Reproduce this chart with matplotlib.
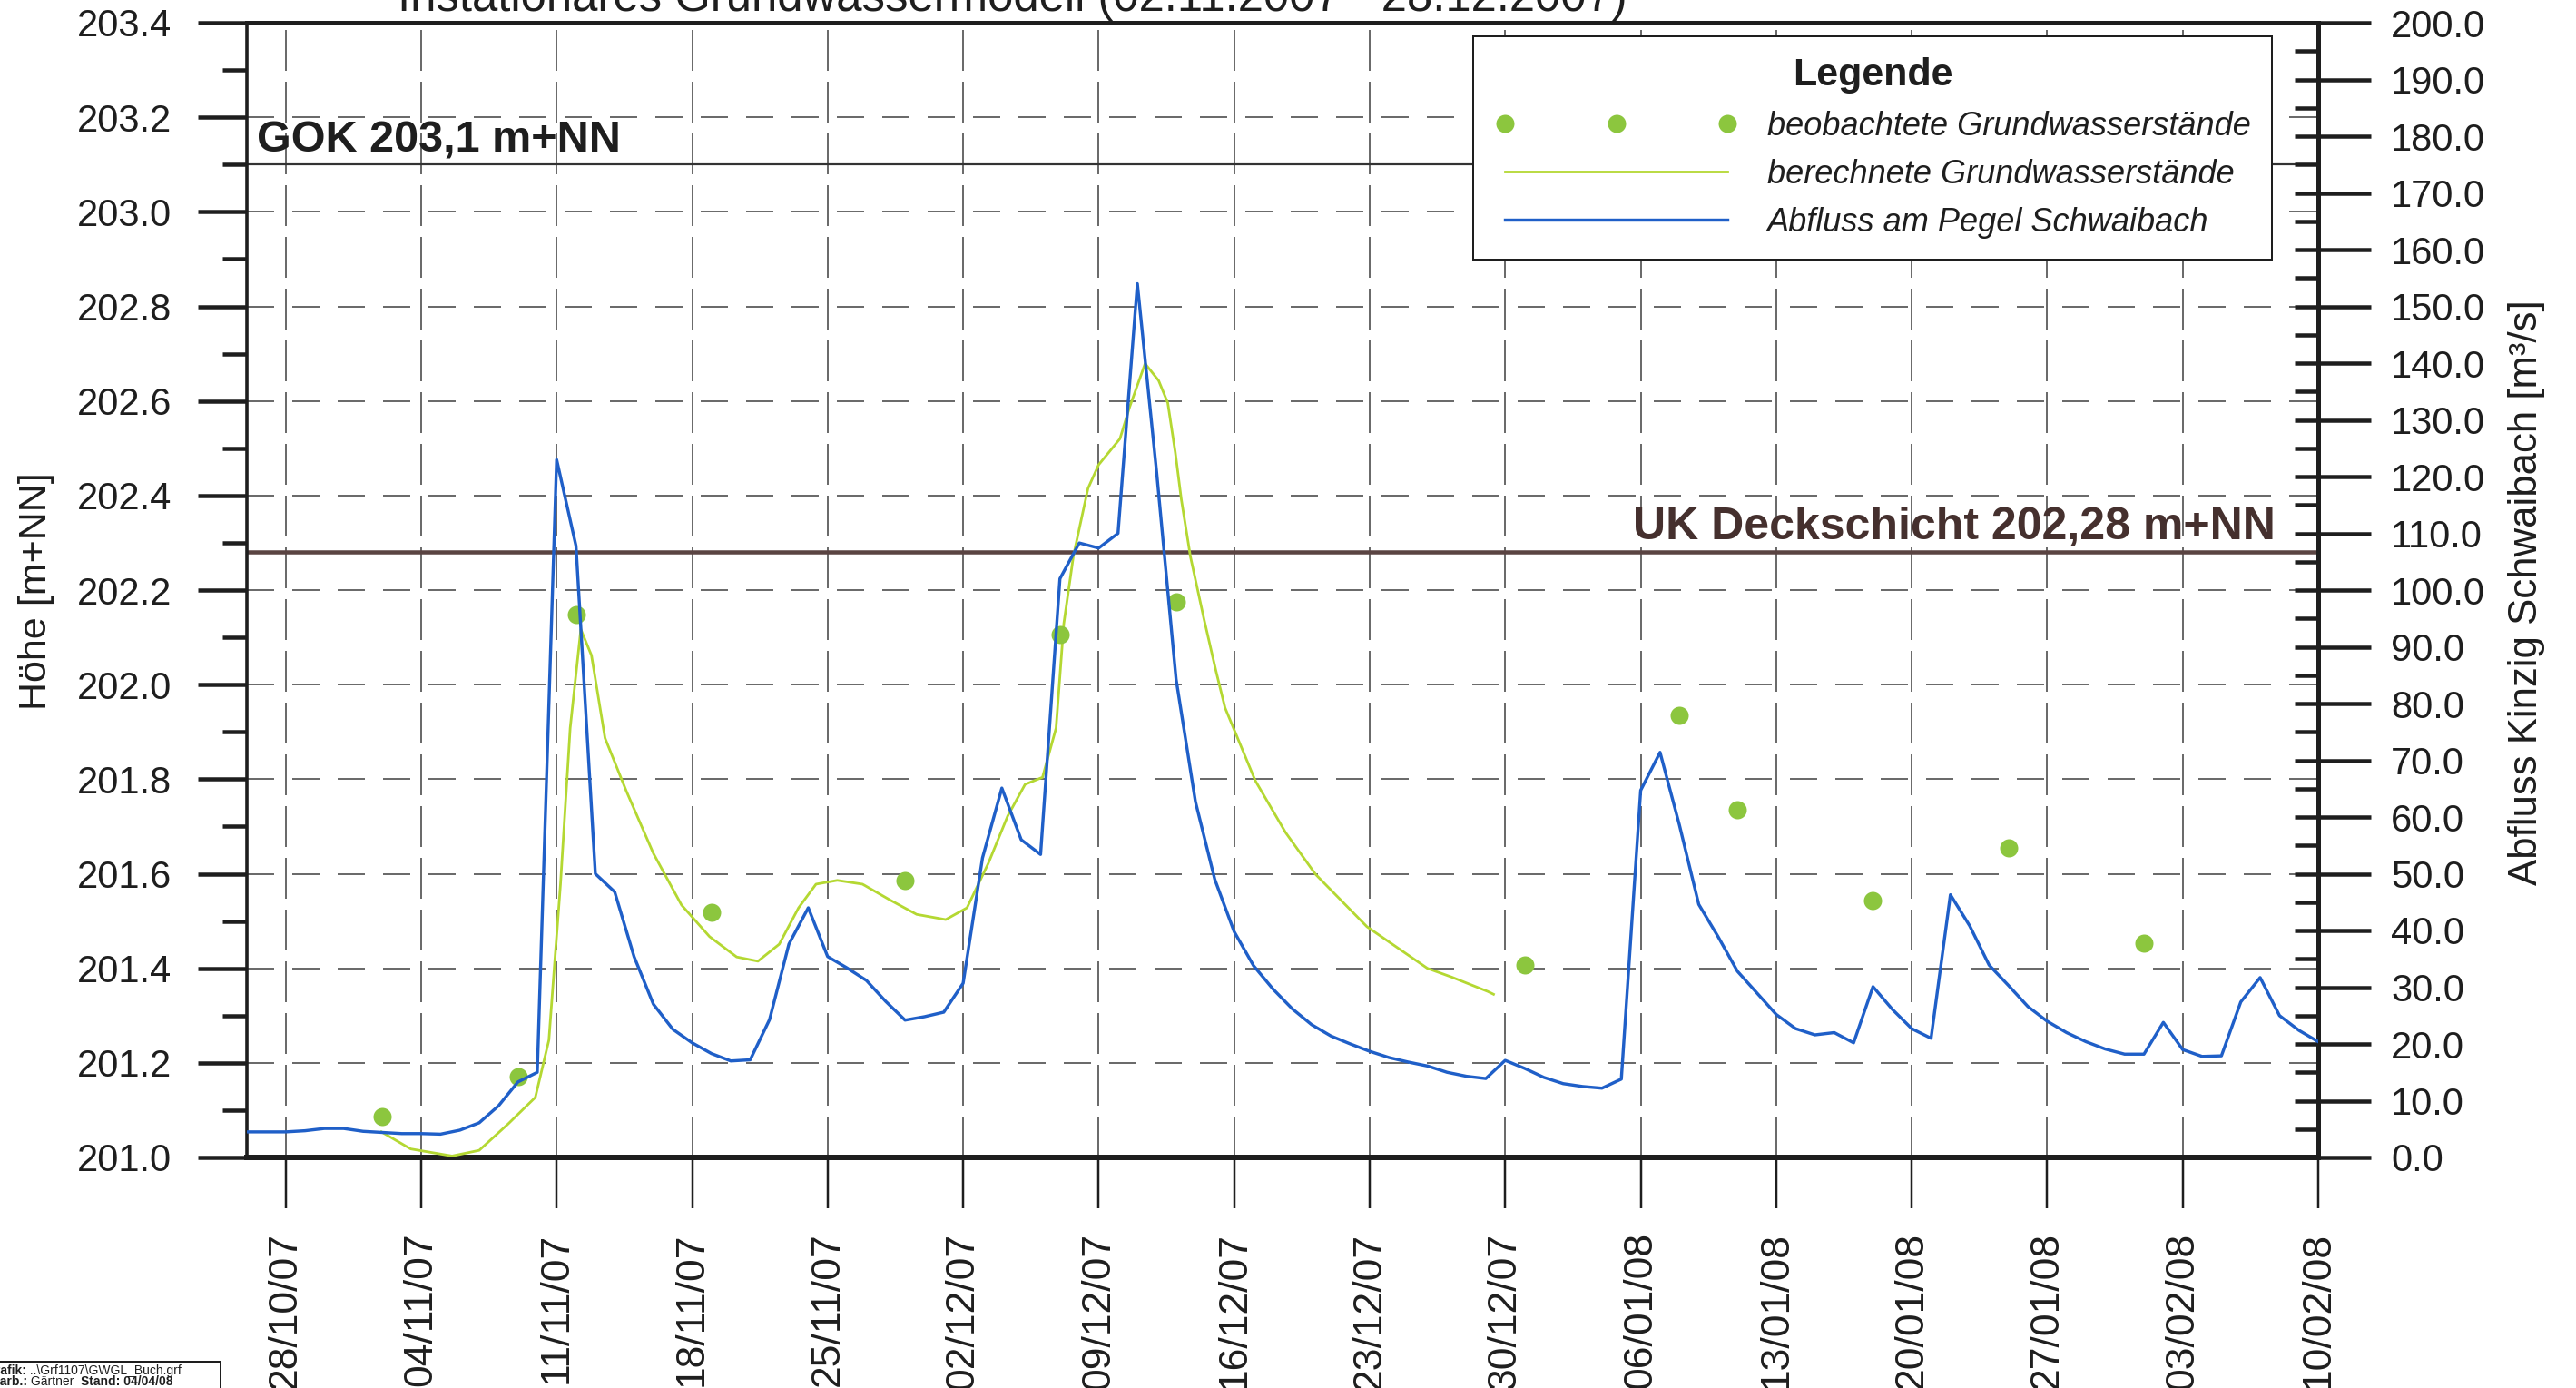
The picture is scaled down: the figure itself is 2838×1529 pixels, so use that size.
import numpy as np
import pandas as pd
import matplotlib
matplotlib.use('Agg')
import matplotlib.pyplot as plt
import matplotlib.dates as mdates
from matplotlib.ticker import MultipleLocator, FormatStrFormatter
from matplotlib.lines import Line2D
from matplotlib.patches import Rectangle

plt.rcParams['font.family'] = ['Liberation Sans', 'DejaVu Sans']
plt.rcParams['lines.scale_dashes'] = False

W, H = 2838, 1529
DPI = 100
PX = 72.0 / DPI  # points per pixel

# Abfluss am Pegel Schwaibach [m3/s], daily 26/10/07 .. 10/02/08
abfluss_dates = pd.date_range('2007-10-26', '2008-02-10', freq='D')
abfluss = [4.5, 4.5, 4.5, 4.7, 5.1, 5.1, 4.6, 4.4, 4.2, 4.2,
           4.1, 4.8, 6.1, 9.1, 13.3, 15.0, 123.0, 107.8, 50.0, 46.8,
           35.4, 27.0, 22.6, 20.2, 18.3, 17.0, 17.2, 24.3, 37.6, 44.0,
           35.4, 33.4, 31.2, 27.5, 24.2, 24.8, 25.6, 30.7, 52.8, 65.1,
           56.0, 53.4, 102.0, 108.3, 107.4, 110.0, 154.0, 120.6, 84.3, 62.7,
           49.0, 39.8, 33.8, 29.7, 26.2, 23.4, 21.4, 20.0, 18.7, 17.6,
           16.8, 16.1, 15.0, 14.3, 13.9, 17.1, 15.7, 14.1, 13.0, 12.5,
           12.2, 13.8, 64.7, 71.4, 58.6, 44.6, 38.9, 32.8, 29.0, 25.2,
           22.7, 21.6, 22.0, 20.2, 30.1, 26.1, 22.7, 21.0, 46.3, 40.8,
           33.9, 30.3, 26.6, 24.0, 22.0, 20.4, 19.1, 18.2, 18.2, 23.8,
           19.0, 17.8, 17.9, 27.4, 31.7, 25.0, 22.4, 20.4]

# beobachtete Grundwasserstaende [m+NN]
obs_dates = ['2007-11-02', '2007-11-09', '2007-11-12', '2007-11-19', '2007-11-29',
             '2007-12-07', '2007-12-13', '2007-12-31', '2008-01-08', '2008-01-11',
             '2008-01-18', '2008-01-25', '2008-02-01']
obs_values = [201.087, 201.170, 202.148, 201.519, 201.586,
              202.106, 202.175, 201.407, 201.935, 201.735,
              201.544, 201.654, 201.454]

# berechnete Grundwasserstaende, days after 28/10/07
calc_start = '2007-10-28'
calc_days = [4.95, 6.46, 8.6, 10.0, 11.5, 12.9, 13.6, 14.2, 14.7, 15.25,
             15.8, 16.5, 17.6, 19.0, 20.45, 21.9, 23.3, 24.4, 25.5, 26.5,
             27.4, 28.5, 29.8, 31.2, 32.6, 34.1, 35.2, 36.3, 37.3, 38.2,
             39.1, 39.8, 40.2, 40.7, 41.45, 42.0, 43.1, 43.6, 44.4, 45.1,
             45.57, 45.96, 46.27, 46.74, 47.44, 48.06, 48.53, 50.09, 51.66, 53.2,
             55.86, 58.98, 60.26, 62.1, 62.4]
calc_values = [201.054, 201.018, 201.003, 201.015, 201.071, 201.127, 201.248, 201.578, 201.908, 202.117,
               202.062, 201.887, 201.775, 201.643, 201.534, 201.467, 201.424, 201.415, 201.451, 201.528,
               201.578, 201.586, 201.578, 201.545, 201.514, 201.503, 201.528, 201.622, 201.722, 201.789,
               201.804, 201.908, 202.129, 202.273, 202.415, 202.465, 202.520, 202.587, 202.679, 202.643,
               202.596, 202.491, 202.392, 202.271, 202.139, 202.029, 201.951, 201.797, 201.687, 201.599,
               201.488, 201.400, 201.381, 201.351, 201.345]

GOK = 203.1
UK = 202.28
week_ticks = pd.date_range('2007-10-28', '2008-02-10', freq='7D')

title = 'Instationäres Grundwassermodell (02.11.2007 - 28.12.2007)'
legend_labels = ['beobachtete Grundwasserstände', 'berechnete Grundwasserstände',
                 'Abfluss am Pegel Schwaibach']

BLUE = '#1f5fc8'
GREEN = '#b4d832'
DOT = '#8cc63e'
INK = '#1e1e1e'
GRID = '#3a3a3a'

fig = plt.figure(figsize=(W / DPI, H / DPI), dpi=DPI)
ax = fig.add_axes([272 / W, 1 - 1275 / H, (2554 - 272) / W, (1275 - 25) / H])
ax2 = ax.twinx()

calc_x = pd.Timestamp(calc_start) + pd.to_timedelta(calc_days, unit='D')
obs_x = pd.to_datetime(obs_dates)

ax.plot(calc_x, calc_values, color=GREEN, lw=2.8 * PX, zorder=3)
ax.plot(obs_x, obs_values, ls='none', marker='o', ms=20 * PX, color=DOT,
        mec='none', zorder=4)
ax2.plot(abfluss_dates, abfluss, color=BLUE, lw=3.4 * PX, zorder=3)

ax.axhline(GOK, color='#333333', lw=2.2 * PX, zorder=2)
ax.axhline(UK, color='#5a4442', lw=4.5 * PX, zorder=2)

ax.annotate('GOK 203,1 m+NN', xy=((283 - 272) / 2282, GOK),
            xycoords=('axes fraction', 'data'), xytext=(0, 14 * PX),
            textcoords='offset points', ha='left', va='baseline',
            fontsize=35, fontweight='bold', color=INK)
ax.annotate('UK Deckschicht 202,28 m+NN', xy=((2507 - 272) / 2282, UK),
            xycoords=('axes fraction', 'data'), xytext=(0, 14 * PX),
            textcoords='offset points', ha='right', va='baseline',
            fontsize=36, fontweight='bold', color='#45302e')

# axes ranges
ax.set_xlim(pd.Timestamp('2007-10-26'), pd.Timestamp('2008-02-10'))
ax.set_ylim(201.0, 203.4)
ax2.set_ylim(0, 200)

# left axis
ax.yaxis.set_major_locator(MultipleLocator(0.2))
ax.yaxis.set_minor_locator(MultipleLocator(0.1))
ax.yaxis.set_major_formatter(FormatStrFormatter('%.1f'))
ax.tick_params(axis='y', which='major', direction='out', length=54 * PX,
               width=4.5 * PX, labelsize=30, pad=21, colors=INK)
ax.tick_params(axis='y', which='minor', direction='out', length=27 * PX,
               width=4.5 * PX, colors=INK)

# right axis
ax2.yaxis.set_major_locator(MultipleLocator(10))
ax2.yaxis.set_minor_locator(MultipleLocator(5))
ax2.yaxis.remove_overlapping_locs = False
ax2.yaxis.set_major_formatter(FormatStrFormatter('%.1f'))
ax2.tick_params(axis='y', which='major', direction='out', length=58 * PX,
                width=4.5 * PX, labelsize=30, pad=16, colors=INK)
ax2.tick_params(axis='y', which='minor', direction='in', length=26 * PX,
                width=4.5 * PX, colors=INK)

# date axis
ax.set_xticks(week_ticks)
ax.xaxis.set_major_formatter(mdates.DateFormatter('%d/%m/%y'))
ax.tick_params(axis='x', which='major', direction='out', length=56 * PX,
               width=2.5 * PX, labelsize=32, pad=19, labelrotation=90, colors=INK)

# grid
ax.grid(axis='y', which='major', color=GRID, lw=1.5 * PX,
        ls=(0, (30 * PX, 20 * PX)))
ax.grid(axis='x', which='major', color=GRID, lw=1.5 * PX,
        ls=(0, (45 * PX, 12 * PX)))

# spines
for side in ['left', 'top', 'bottom', 'right']:
    ax2.spines[side].set_visible(side == 'right')
    ax.spines[side].set_visible(side != 'right')
    ax.spines[side].set_color(INK)
    ax2.spines[side].set_color(INK)
ax.spines['left'].set_linewidth(3.6 * PX)
ax.spines['top'].set_linewidth(5 * PX)
ax.spines['bottom'].set_linewidth(6 * PX)
ax2.spines['right'].set_linewidth(5 * PX)

# axis labels
fig.text(40 / W, 1 - 651 / H, 'Höhe [m+NN]', rotation=90, ha='center',
         va='center', fontsize=31, color=INK)
fig.text(2784 / W, 1 - 653 / H, 'Abfluss Kinzig Schwaibach [m³/s]', rotation=90,
         ha='center', va='center', fontsize=31.5, color=INK)

# title, mostly cut off by the top edge (as in the scan)
fig.text(1115 / W, 1 - 12 / H, title, ha='center', va='baseline',
         fontsize=36.6, color=INK)

# legend
handles = [Line2D([], [], ls='none', marker='o', ms=20 * PX, color=DOT, mec='none'),
           Line2D([], [], color=GREEN, lw=2.8 * PX),
           Line2D([], [], color=BLUE, lw=3.4 * PX)]
leg = ax2.legend(handles, legend_labels, loc='upper right',
                 bbox_to_anchor=((2503 - 272) / 2282, (1275 - 40) / 1250),
                 borderaxespad=0, numpoints=3, handlelength=7.4,
                 handletextpad=0.9, borderpad=0.65, labelspacing=0.5,
                 title='Legende',
                 title_fontproperties={'weight': 'bold', 'size': 31},
                 prop={'style': 'italic', 'size': 26},
                 frameon=True, fancybox=False, framealpha=1,
                 edgecolor=INK, labelcolor=INK)
leg.get_frame().set_linewidth(2 * PX)
leg.get_title().set_color(INK)

# file stamp box, bottom left (partly cut off)
fig.add_artist(Rectangle((-10 / W, -5 / H), 253 / W, 34 / H,
                         transform=fig.transFigure, fill=False,
                         lw=2 * PX, ec=INK, clip_on=False))
t = fig.text(-16 / W, 15 / H, 'Grafik:', fontsize=10, fontweight='bold',
             va='baseline', color=INK)
ax.annotate(' ..\\Grf1107\\GWGL_Buch.grf', xy=(1, 0), xycoords=t,
            va='bottom', fontsize=10, color=INK, annotation_clip=False)
t = fig.text(-18 / W, 3 / H, 'Bearb.:', fontsize=10, fontweight='bold',
             va='baseline', color=INK)
t = ax.annotate(' Gärtner  ', xy=(1, 0), xycoords=t, va='bottom',
                fontsize=10, color=INK, annotation_clip=False)
ax.annotate('Stand: 04/04/08', xy=(1, 0), xycoords=t, va='bottom',
            fontsize=10, fontweight='bold', color=INK, annotation_clip=False)

fig.savefig('out.png', dpi=DPI)
